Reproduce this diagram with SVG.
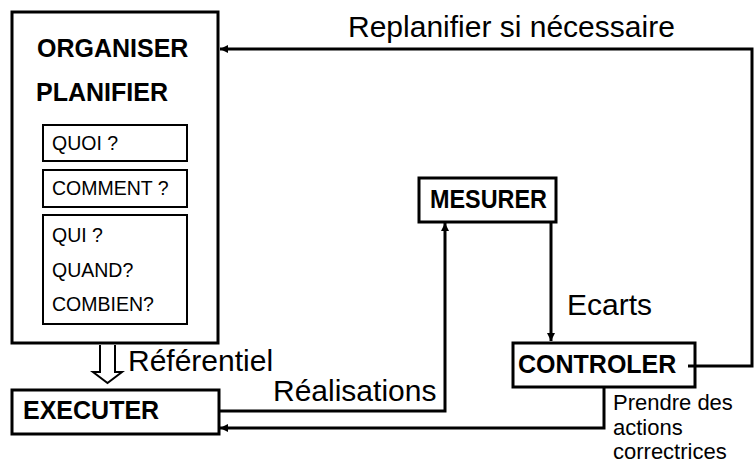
<svg xmlns="http://www.w3.org/2000/svg" width="754" height="466" viewBox="0 0 754 466">
<defs>
<style>
.box{fill:#fff;stroke:#000;stroke-width:3}
.sbox{fill:#fff;stroke:#000;stroke-width:2}
.b{font-family:"Liberation Sans",Arial,sans-serif;font-weight:bold;font-size:25px;fill:#000}
.s{font-family:"Liberation Sans",Arial,sans-serif;font-size:19.5px;fill:#000}
.l{font-family:"Liberation Sans",Arial,sans-serif;font-size:30px;fill:#000}
.m{font-family:"Liberation Sans",Arial,sans-serif;font-size:22px;fill:#000}
.c{fill:none;stroke:#000;stroke-width:3}
</style>
<marker id="ah" viewBox="0 0 10 10" refX="10" refY="5" markerWidth="10" markerHeight="8" markerUnits="userSpaceOnUse" orient="auto">
<path d="M0,0 L10,5 L0,10 z" fill="#000"/>
</marker>
</defs>
<g id="organiser">
<rect class="box" x="12" y="12" width="206" height="331"/>
<text class="b" x="37" y="57">ORGANISER</text>
<text class="b" x="36" y="101">PLANIFIER</text>
</g>
<g id="quoi">
<rect class="sbox" x="43" y="125" width="144" height="36"/>
<text class="s" x="52" y="150">QUOI ?</text>
</g>
<g id="comment">
<rect class="sbox" x="43" y="170" width="144" height="37"/>
<text class="s" x="52" y="195">COMMENT ?</text>
</g>
<g id="qui">
<rect class="sbox" x="43" y="215" width="144" height="109"/>
<text class="s" x="52" y="242">QUI ?</text>
<text class="s" x="52" y="277">QUAND?</text>
<text class="s" x="52" y="311">COMBIEN?</text>
</g>
<g id="executer">
<rect class="box" x="12" y="390" width="207" height="44"/>
<text class="b" x="23" y="419">EXECUTER</text>
</g>
<g id="mesurer">
<rect class="box" x="419" y="178" width="137" height="44"/>
<text class="b" x="430" y="208" textLength="117" lengthAdjust="spacingAndGlyphs">MESURER</text>
</g>
<g id="controler">
<rect class="box" x="513" y="343" width="182" height="44"/>
<text class="b" x="518" y="373">CONTROLER</text>
</g>
<g id="connectors">
<polyline class="c" points="688,366 752,366 752,49 220,49" marker-end="url(#ah)"/>
<polyline class="c" points="551,222 551,341" marker-end="url(#ah)"/>
<polyline class="c" points="219,411 445,411 445,223" marker-end="url(#ah)"/>
<polyline class="c" points="604,387 604,428 220,428" marker-end="url(#ah)"/>
<path d="M100,345 V372 H93 L107.5,383 L122,372 H115 V345" fill="#fff" stroke="#000" stroke-width="2"/>
<text class="l" x="348" y="37">Replanifier si nécessaire</text>
<text class="l" x="567" y="315">Ecarts</text>
<text class="l" x="273" y="401">Réalisations</text>
<text class="l" x="128" y="371">Référentiel</text>
<text class="m" x="613" y="410">Prendre des</text>
<text class="m" x="613" y="435">actions</text>
<text class="m" x="613" y="459">correctrices</text>
</g>
</svg>
